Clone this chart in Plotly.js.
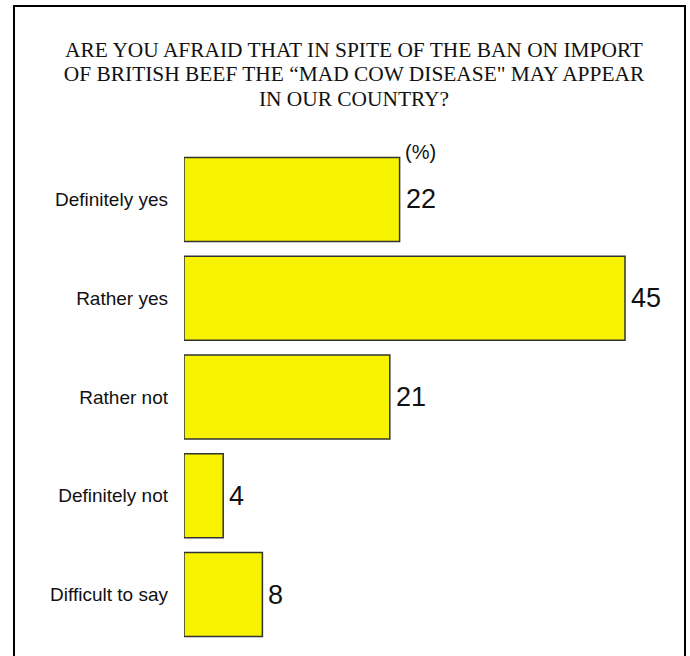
<!DOCTYPE html>
<html>
<head>
<meta charset="utf-8">
<script src="https://cdn.plot.ly/plotly-3.0.1.min.js"></script>
<style>
html,body{margin:0;padding:0;background:#fff;}
#chart{width:690px;height:656px;}
</style>
</head>
<body>
<div id="chart"></div>
<script>
var categories = ["Definitely yes", "Rather yes", "Rather not", "Definitely not", "Difficult to say"];
var values = [22, 45, 21, 4, 8];
var valueLabels = ["22", "45", "21", "4", "8"];
var titleLines = [
  "ARE YOU AFRAID THAT IN SPITE OF THE BAN ON IMPORT",
  "OF BRITISH BEEF THE \u201cMAD COW DISEASE\" MAY APPEAR",
  "IN OUR COUNTRY?"
];
var unitLabel = "(%)";

var W = 690, H = 656;
var mL = 184, mR = 16, mT = 150, mB = 12;
var plotW = W - mL - mR, plotH = H - mT - mB;

var trace = {
  type: "bar",
  orientation: "h",
  y: categories,
  x: values,
  marker: {color: "#f6f200", line: {color: "#333333", width: 1.5}},
  hoverinfo: "none"
};

var annotations = categories.map(function (c, i) {
  return {
    x: values[i], y: c, xref: "x", yref: "y",
    text: valueLabels[i], showarrow: false,
    xanchor: "left", yanchor: "middle", xshift: 4,
    font: {family: "Liberation Sans, Arial, sans-serif", size: 27, color: "#111"}
  };
});
annotations.push({
  x: values[0], y: categories[0], xref: "x", yref: "y",
  text: unitLabel, showarrow: false,
  xanchor: "left", yanchor: "middle", xshift: 3, yshift: 47,
  font: {family: "Liberation Sans, Arial, sans-serif", size: 20, color: "#111"}
});

var layout = {
  width: W, height: H,
  margin: {l: mL, r: mR, t: mT, b: mB, pad: 0},
  paper_bgcolor: "#fff", plot_bgcolor: "#fff",
  showlegend: false,
  bargap: 0.15,
  title: {
    text: '<span style="font-size:21.4px">' + titleLines.join("<br>") + '</span>',
    font: {family: "Liberation Serif, Times New Roman, serif", size: 18.8, color: "#111"},
    x: 354 / W, xref: "container", xanchor: "center",
    y: 1 - 57 / H, yref: "container", yanchor: "top"
  },
  xaxis: {
    range: [0, 50], visible: false, fixedrange: true
  },
  yaxis: {
    type: "category", range: [4.5, -0.5],
    showline: false, showgrid: false, zeroline: false, ticks: "",
    ticklabelstandoff: 15,
    tickfont: {family: "Liberation Sans, Arial, sans-serif", size: 19, color: "#111"},
    fixedrange: true
  },
  annotations: annotations,
  shapes: [{
    type: "rect", xref: "paper", yref: "paper",
    x0: (14 - mL) / plotW, x1: (685 - mL) / plotW,
    y0: -0.2, y1: 1 + (mT - 6) / plotH,
    line: {color: "#000", width: 2}, fillcolor: "rgba(0,0,0,0)", layer: "below"
  }]
};

Plotly.newPlot("chart", [trace], layout, {displayModeBar: false, staticPlot: true});
</script>
</body>
</html>
